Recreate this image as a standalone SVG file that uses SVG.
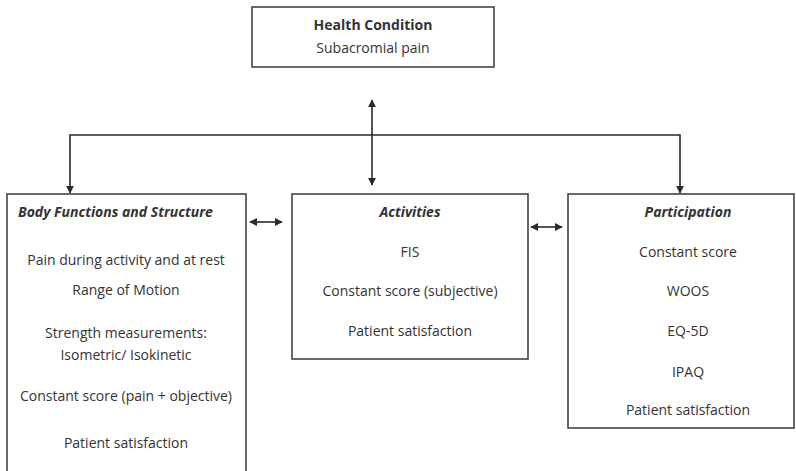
<svg xmlns="http://www.w3.org/2000/svg" width="796" height="471" viewBox="0 0 796 471">
<defs>
<marker id="ah" viewBox="0 0 10 10" refX="9" refY="5" markerWidth="8" markerHeight="8" orient="auto-start-reverse" markerUnits="userSpaceOnUse">
<path d="M0,0 L10,5 L0,10 z" fill="#2a2a2a"/>
</marker>
<style>
.box{fill:#fff;stroke:#444;stroke-width:1.6}
.ln{stroke:#2a2a2a;stroke-width:1.6;fill:none}
text{font-family:"Open Sans","Noto Sans","Liberation Sans",sans-serif;font-size:14px;fill:#333}
.c{text-anchor:middle}
.bi{font-weight:bold;font-style:italic}
.b{font-weight:bold}
</style>
</defs>
<rect width="796" height="471" fill="#fff"/>
<g id="connectors">
<line class="ln" x1="372" y1="100" x2="372" y2="185" marker-start="url(#ah)" marker-end="url(#ah)"/>
<polyline class="ln" points="70,193 70,135 680,135 680,193" marker-start="url(#ah)" marker-end="url(#ah)"/>
<line class="ln" x1="250" y1="222" x2="282" y2="222" marker-start="url(#ah)" marker-end="url(#ah)"/>
<line class="ln" x1="531" y1="227" x2="562" y2="227" marker-start="url(#ah)" marker-end="url(#ah)"/>
</g>
<g id="health">
<rect class="box" x="252" y="7" width="242" height="60"/>
<text class="c b" x="373" y="30">Health Condition</text>
<text class="c" x="373" y="53">Subacromial pain</text>
</g>
<g id="body">
<rect class="box" x="7" y="194" width="239" height="280"/>
<text class="bi" x="18" y="217">Body Functions and Structure</text>
<text class="c" x="126" y="265">Pain during activity and at rest</text>
<text class="c" x="126" y="295">Range of Motion</text>
<text class="c" x="126" y="338">Strength measurements:</text>
<text class="c" x="126" y="360">Isometric/ Isokinetic</text>
<text class="c" x="126" y="401">Constant score (pain + objective)</text>
<text class="c" x="126" y="448">Patient satisfaction</text>
</g>
<g id="activities">
<rect class="box" x="292" y="194" width="236" height="165"/>
<text class="c bi" x="410" y="217">Activities</text>
<text class="c" x="410" y="257">FIS</text>
<text class="c" x="410" y="296">Constant score (subjective)</text>
<text class="c" x="410" y="336">Patient satisfaction</text>
</g>
<g id="participation">
<rect class="box" x="568" y="194" width="226" height="234"/>
<text class="c bi" x="688" y="217">Participation</text>
<text class="c" x="688" y="257">Constant score</text>
<text class="c" x="688" y="296">WOOS</text>
<text class="c" x="688" y="336">EQ-5D</text>
<text class="c" x="688" y="377">IPAQ</text>
<text class="c" x="688" y="415">Patient satisfaction</text>
</g>
</svg>
